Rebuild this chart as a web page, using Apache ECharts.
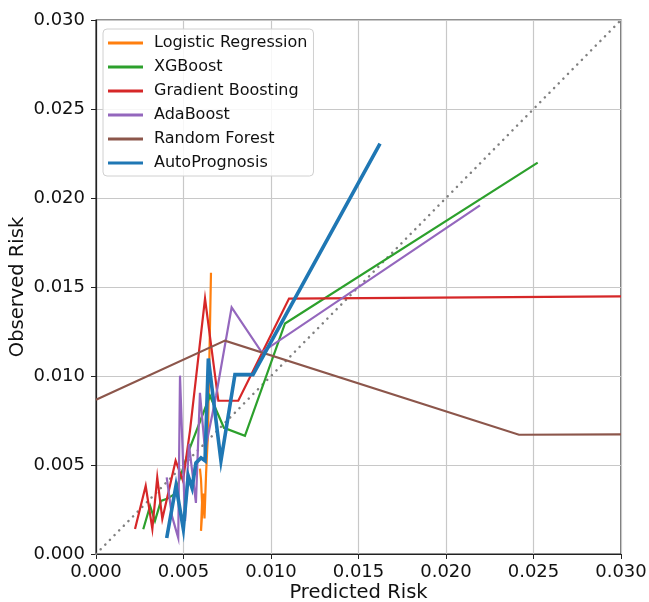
<!DOCTYPE html>
<html>
<head>
<meta charset="utf-8">
<script src="https://cdn.jsdelivr.net/npm/echarts@6/dist/echarts.min.js"></script>
<style>
html,body{margin:0;padding:0;background:#fff;}
#chart{width:649px;height:602px;}
</style>
</head>
<body>
<div id="chart"></div>
<script>
// ---- data (predicted risk, observed risk) ----
const seriesNames = ['Logistic Regression','XGBoost','Gradient Boosting','AdaBoost','Random Forest','AutoPrognosis'];
const logisticRegression = [[0.00594,0.00480],[0.00600,0.00420],[0.00606,0.00290],[0.00600,0.00130],[0.00614,0.00340],[0.00620,0.00200],[0.00629,0.00450],[0.00640,0.00680],[0.00657,0.01580]];
const xgboost = [[0.00270,0.00139],[0.00309,0.00270],[0.00337,0.00186],[0.00371,0.00298],[0.00406,0.00310],[0.00451,0.00338],[0.00526,0.00569],[0.00651,0.00889],[0.00731,0.00709],[0.00851,0.00664],[0.01080,0.01295],[0.02524,0.02199]];
const gradientBoosting = [[0.00223,0.00141],[0.00284,0.00383],[0.00322,0.00141],[0.00350,0.00430],[0.00379,0.00197],[0.00455,0.00524],[0.00497,0.00411],[0.00537,0.00692],[0.00623,0.01435],[0.00699,0.00861],[0.00813,0.00861],[0.01103,0.01435],[0.03000,0.01447]];
const adaBoost = [[0.00404,0.00430],[0.00434,0.00214],[0.00470,0.00090],[0.00480,0.01002],[0.00509,0.00186],[0.00531,0.00619],[0.00571,0.00287],[0.00594,0.00906],[0.00623,0.00580],[0.00686,0.00889],[0.00775,0.01386],[0.00947,0.01133],[0.02194,0.01959]];
const randomForest = [[0.00000,0.00866],[0.00737,0.01199],[0.02417,0.00670],[0.03000,0.00672]];
const autoPrognosis = [[0.00404,0.00090],[0.00457,0.00383],[0.00499,0.00141],[0.00527,0.00439],[0.00549,0.00371],[0.00571,0.00512],[0.00600,0.00540],[0.00623,0.00524],[0.00642,0.01098],[0.00714,0.00524],[0.00794,0.01008],[0.00897,0.01008],[0.01623,0.02306]];
const perfectCalibration = [[0,0],[0.03,0.03]];
const axisMin = 0, axisMax = 0.03, axisStep = 0.005;

const colors = ['#ff7f0e','#2ca02c','#d62728','#9467bd','#8c564b','#1f77b4'];
const datasets = [logisticRegression, xgboost, gradientBoosting, adaBoost, randomForest, autoPrognosis];
const widths = [2.2, 2.2, 2.2, 2.2, 2.2, 3.6];

const FONT = 'DejaVu Sans';
const fmt = v => v.toFixed(3);

const chart = echarts.init(document.getElementById('chart'), null, {renderer:'canvas'});

const series = [{
  type:'line', name:'diag', data: perfectCalibration, symbol:'none', silent:true,
  lineStyle:{color:'#808080', width:2.5, type:[0.1,6.5], cap:'round'}, z:1
}];
seriesNames.forEach((n,i)=>{
  series.push({
    type:'line', name:n, data: datasets[i], symbol:'none', z:2,
    lineStyle:{color:colors[i], width:widths[i], join:'miter'},
    itemStyle:{color:colors[i]}
  });
});

const axisCommon = {
  type:'value', min:axisMin, max:axisMax, interval:axisStep,
  axisLine:{show:true, onZero:false, lineStyle:{color:'#222', width:1.2}},
  axisTick:{show:true, inside:false, length:5, lineStyle:{color:'#222', width:1}},
  splitLine:{show:true, lineStyle:{color:'#c8c8c8', width:1.2}},
  axisLabel:{formatter:fmt, color:'#111', fontFamily:FONT, fontSize:18},
  nameLocation:'middle',
  nameMoveOverlap:false,
  nameTextStyle:{color:'#111', fontFamily:FONT, fontSize:19.5}
};

chart.setOption({
  animation:false,
  backgroundColor:'#fff',
  grid:{left:96, right:28, top:20, bottom:48, containLabel:false, outerBoundsMode:'none', show:true, borderColor:'#222', borderWidth:1.2, backgroundColor:'transparent'},
  xAxis: Object.assign({}, axisCommon, {name:'Predicted Risk', nameGap:29, axisLabel:Object.assign({}, axisCommon.axisLabel, {margin:9})}),
  yAxis: Object.assign({}, axisCommon, {name:'Observed Risk', nameGap:68, axisLabel:Object.assign({}, axisCommon.axisLabel, {margin:11})}),
  legend:{
    data: seriesNames.map((n,i)=>({name:n, icon:'rect', itemStyle:{color:colors[i]}})),
    orient:'vertical', left:103, top:29,
    itemWidth:35, itemHeight:3, itemGap:6,
    padding:[5,6,4,5],
    backgroundColor:'rgba(255,255,255,0.85)', borderColor:'#d0d0d0', borderWidth:1, borderRadius:4,
    textStyle:{color:'#111', fontFamily:FONT, fontSize:16, lineHeight:18, padding:[0,0,0,6]}
  },
  series: series
});
</script>
</body>
</html>
